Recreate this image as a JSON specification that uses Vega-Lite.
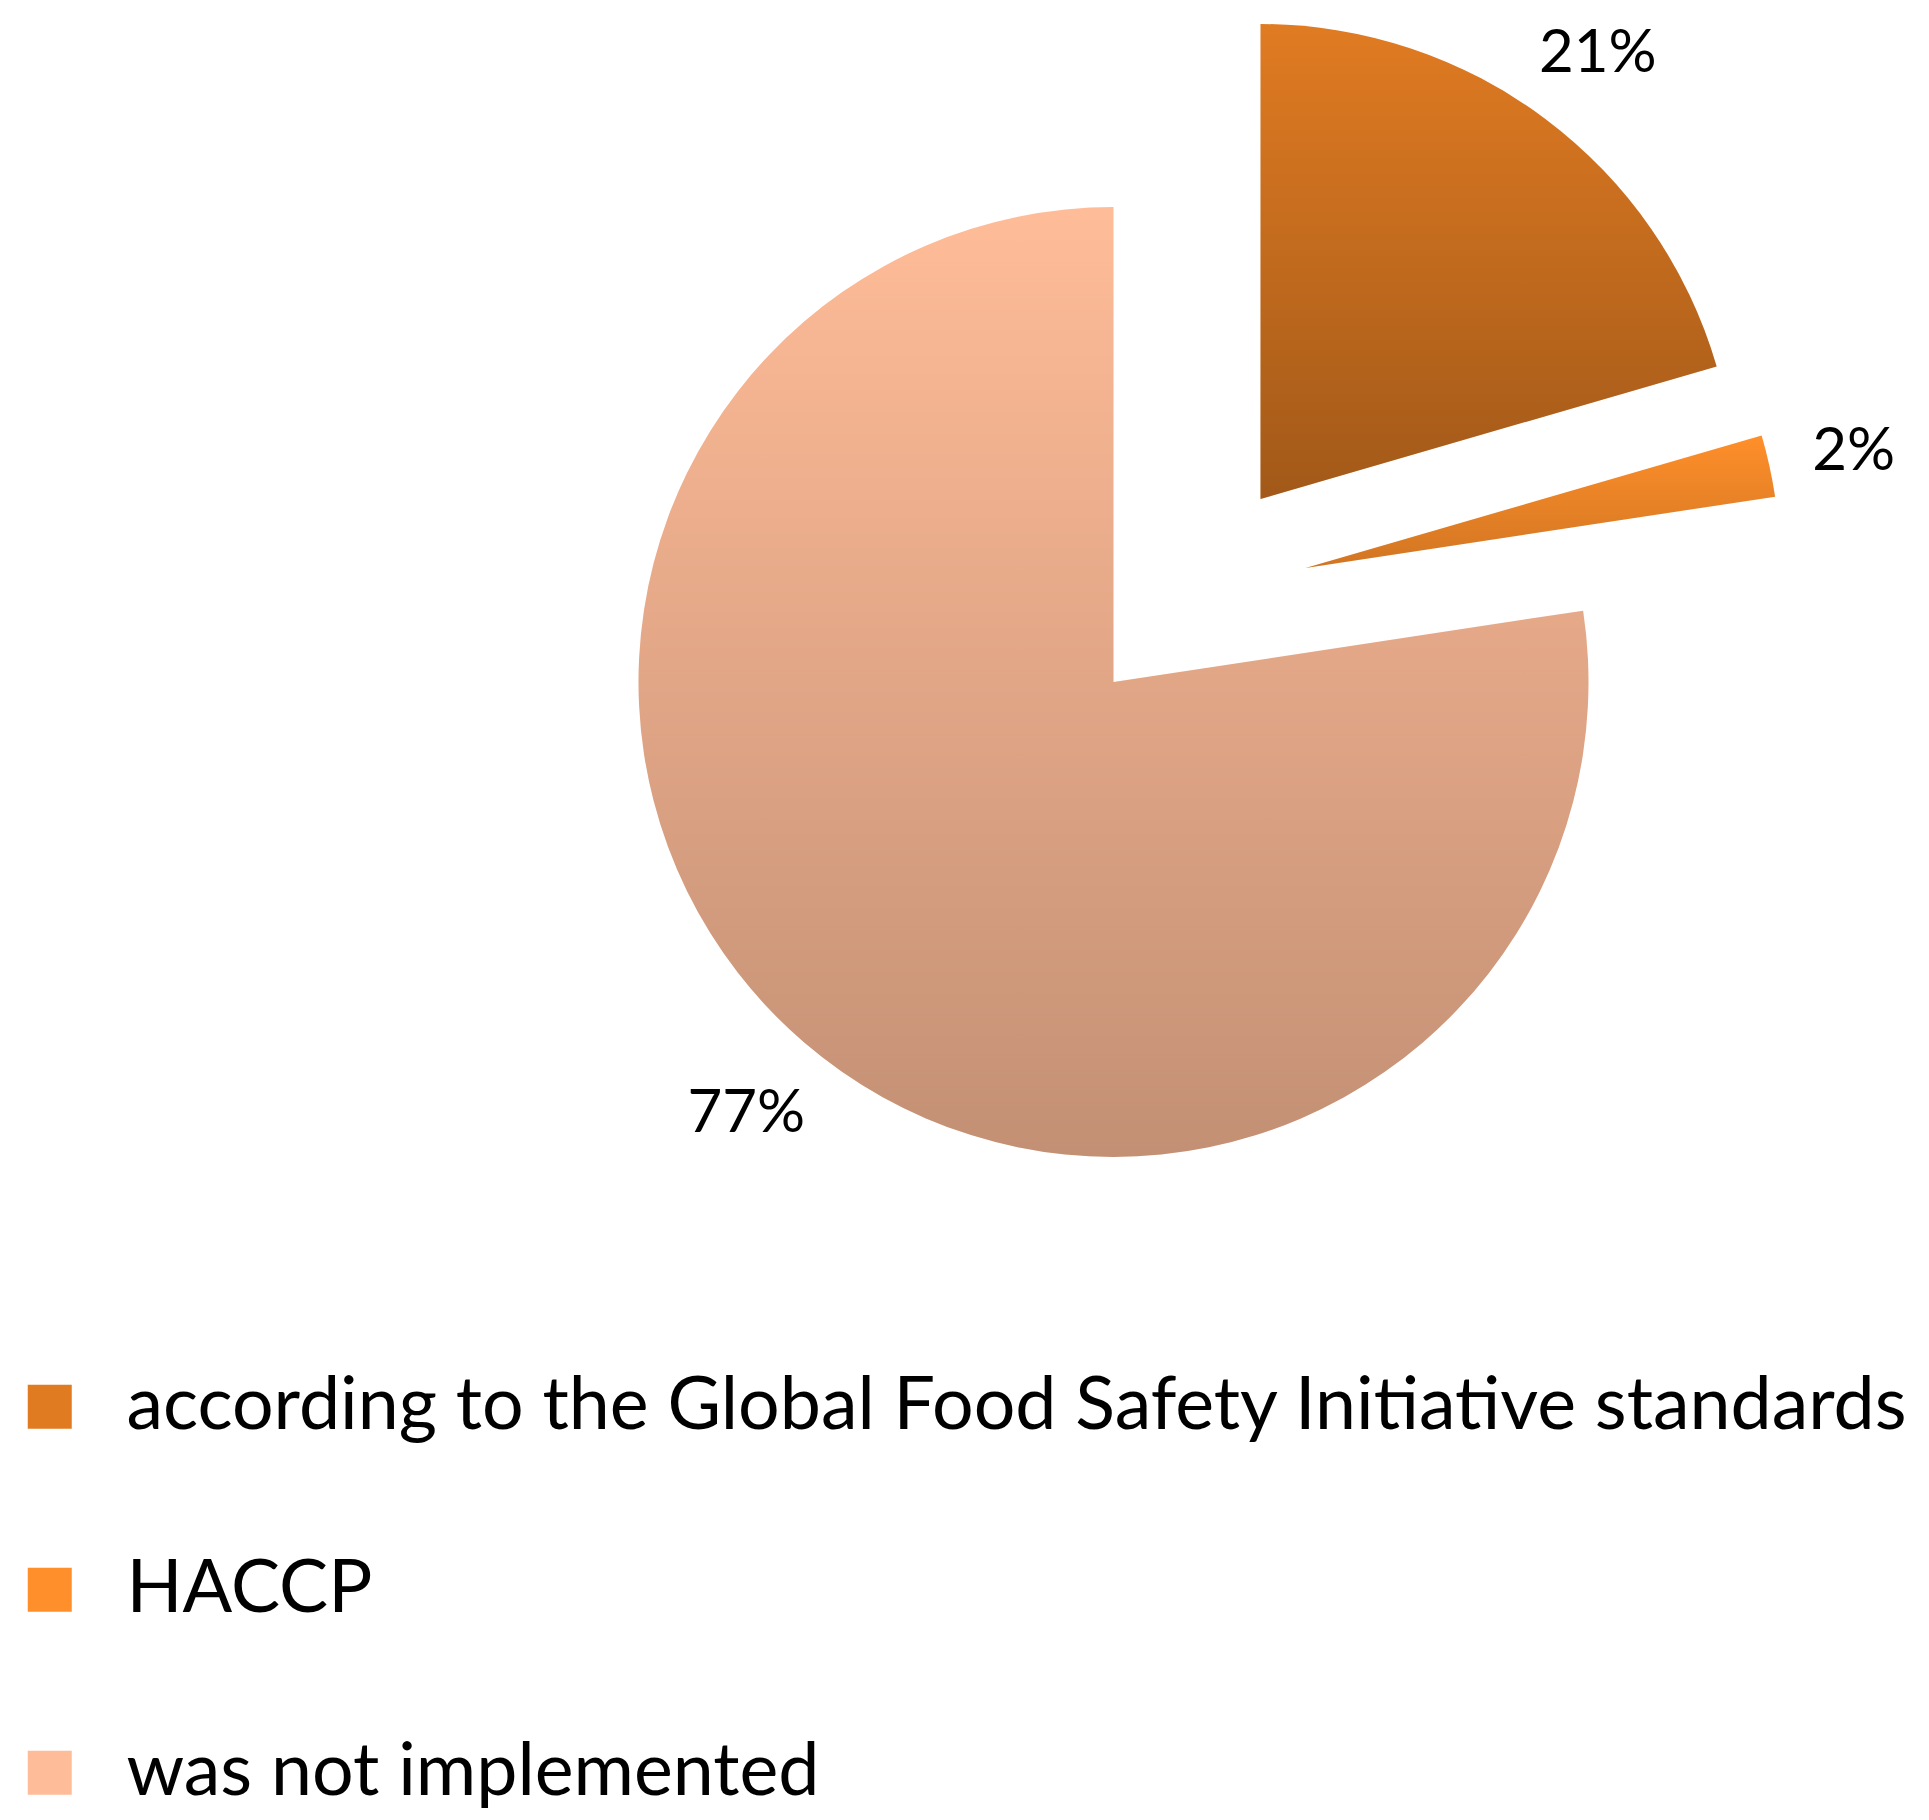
{
  "$schema": "https://vega.github.io/schema/vega-lite/v6.json",
  "autosize": {"type": "fit", "contains": "padding"},
  "width": 1929,
  "height": 1820,
  "padding": 0,
  "background": "white",
  "config": {"view": {"stroke": null}, "font": "Lato"},
  "data": {
    "values": [
      {"cat": "according to the Global Food Safety Initiative standards", "value": 20.5, "label": "21%", "order": 1},
      {"cat": "HACCP", "value": 2.1, "label": "2%", "order": 2},
      {"cat": "was not implemented", "value": 77.4, "label": "77%", "order": 3}
    ]
  },
  "resolve": {"scale": {"theta": "shared", "color": "shared"}},
  "layer": [
    {
      "transform": [
        {"stack": "value", "groupby": [], "sort": [{"field": "order"}], "as": ["v0", "v1"]},
        {"filter": "datum.order == 1"}
      ],
      "mark": {"type": "arc", "outerRadius": 475, "xOffset": 296, "yOffset": -411, "strokeWidth": 0},
      "encoding": {
        "theta": {"field": "v0", "type": "quantitative", "scale": {"domain": [0, 100]}},
        "theta2": {"field": "v1"},
        "color": {
          "field": "cat", "type": "nominal", "sort": null,
          "scale": {
            "domain": ["according to the Global Food Safety Initiative standards", "HACCP", "was not implemented"],
            "range": ["#E07B22", "#FF8F2A", "#FFBC98"]
          },
          "legend": {
            "title": null,
            "orient": "none",
            "legendX": 13,
            "legendY": 1370,
            "symbolType": "square",
            "symbolSize": 1936,
            "symbolStrokeWidth": 0,
            "symbolOpacity": 1,
            "labelFontSize": 73.5,
            "labelFont": "Lato",
            "labelColor": "#000000",
            "labelLimit": 0,
            "labelOffset": 40,
            "rowPadding": 108,
            "padding": 0
          }
        }
      }
    },
    {
      "transform": [
        {"stack": "value", "groupby": [], "sort": [{"field": "order"}], "as": ["v0", "v1"]},
        {"filter": "datum.order == 2"}
      ],
      "mark": {"type": "arc", "outerRadius": 475, "xOffset": 341, "yOffset": -342, "strokeWidth": 0},
      "encoding": {
        "theta": {"field": "v0", "type": "quantitative", "scale": {"domain": [0, 100]}},
        "theta2": {"field": "v1"},
        "color": {"field": "cat", "type": "nominal", "sort": null}
      }
    },
    {
      "transform": [
        {"stack": "value", "groupby": [], "sort": [{"field": "order"}], "as": ["v0", "v1"]},
        {"filter": "datum.order == 3"}
      ],
      "mark": {"type": "arc", "outerRadius": 475, "xOffset": 149, "yOffset": -228, "strokeWidth": 0},
      "encoding": {
        "theta": {"field": "v0", "type": "quantitative", "scale": {"domain": [0, 100]}},
        "theta2": {"field": "v1"},
        "color": {"field": "cat", "type": "nominal", "sort": null}
      }
    },
    {
      "transform": [
        {"stack": "value", "groupby": [], "sort": [{"field": "order"}], "as": ["v0", "v1"]},
        {"filter": "datum.order == 1"}
      ],
      "mark": {"type": "arc", "outerRadius": 475, "xOffset": 296, "yOffset": -411, "strokeWidth": 0,
        "fill": {"gradient": "linear", "x1": 0, "y1": 0, "x2": 0, "y2": 1, "stops": [{"offset": 0, "color": "rgba(0,0,0,0)"}, {"offset": 1, "color": "rgba(0,0,0,0.28)"}]}},
      "encoding": {
        "theta": {"field": "v0", "type": "quantitative", "scale": {"domain": [0, 100]}},
        "theta2": {"field": "v1"}
      }
    },
    {
      "transform": [
        {"stack": "value", "groupby": [], "sort": [{"field": "order"}], "as": ["v0", "v1"]},
        {"filter": "datum.order == 2"}
      ],
      "mark": {"type": "arc", "outerRadius": 475, "xOffset": 341, "yOffset": -342, "strokeWidth": 0,
        "fill": {"gradient": "linear", "x1": 0, "y1": 0, "x2": 0, "y2": 1, "stops": [{"offset": 0, "color": "rgba(0,0,0,0)"}, {"offset": 1, "color": "rgba(0,0,0,0.18)"}]}},
      "encoding": {
        "theta": {"field": "v0", "type": "quantitative", "scale": {"domain": [0, 100]}},
        "theta2": {"field": "v1"}
      }
    },
    {
      "transform": [
        {"stack": "value", "groupby": [], "sort": [{"field": "order"}], "as": ["v0", "v1"]},
        {"filter": "datum.order == 3"}
      ],
      "mark": {"type": "arc", "outerRadius": 475, "xOffset": 149, "yOffset": -228, "strokeWidth": 0,
        "fill": {"gradient": "linear", "x1": 0, "y1": 0, "x2": 0, "y2": 1, "stops": [{"offset": 0, "color": "rgba(0,0,0,0)"}, {"offset": 1, "color": "rgba(0,0,0,0.235)"}]}},
      "encoding": {
        "theta": {"field": "v0", "type": "quantitative", "scale": {"domain": [0, 100]}},
        "theta2": {"field": "v1"}
      }
    },
    {
      "mark": {"type": "text", "radius": 680, "xOffset": 225, "yOffset": -312, "fontSize": 60, "font": "Lato", "color": "#000000"},
      "encoding": {
        "theta": {"field": "value", "type": "quantitative", "stack": true, "scale": {"domain": [0, 100]}},
        "order": {"field": "order", "type": "quantitative"},
        "detail": {"field": "cat", "type": "nominal"},
        "text": {"field": "label", "type": "nominal"}
      }
    }
  ]
}
